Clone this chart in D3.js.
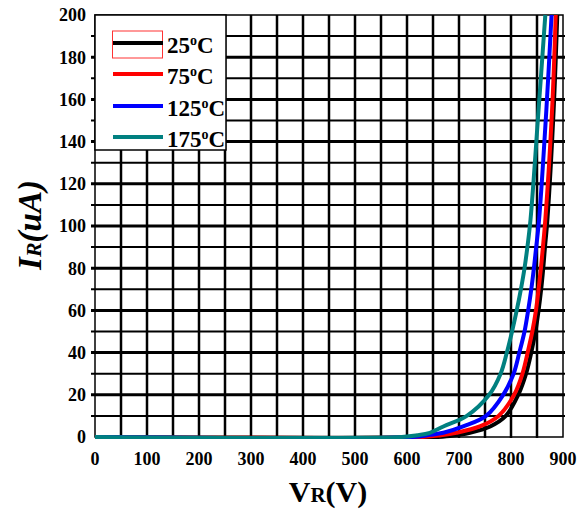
<!DOCTYPE html>
<html lang="en">
  <head>
    <meta charset="UTF-8" />
    <title>IR vs VR</title>
    <style>
      body { margin: 0; background: #fff; }
      text { font-family: "Liberation Serif", "Times New Roman", serif; font-weight: bold; }
    </style>
  </head>
  <body>
    <svg width="587" height="515"></svg>

    <script src="https://d3js.org/d3.v7.min.js"></script>
    <script>
      // temperatures shown in the legend
      const labels = ["25", "75", "125", "175"];
      const colors = ["#000000", "#ff0000", "#0000ff", "#008080"];

      // reverse voltage (V) / reverse current (uA)
      const v25 = [0, 650, 683, 721, 760, 790, 814, 829, 839, 847, 853, 858, 862, 865, 870, 882, 889];
      const i25 = [0, 0, 0.5, 2, 5, 10, 20, 30, 40, 50, 60, 70, 80, 89, 103, 155, 200];
      const v75 = [0, 630, 665, 695, 740, 776, 806, 822, 832, 841, 848, 853, 857.5, 861, 866, 879, 886];
      const i75 = [0, 0, 0.8, 2, 5, 10, 20, 30, 40, 50, 60, 70, 80, 89, 103, 155, 200];
      const v125 = [0, 610, 644, 670, 708, 752, 785, 805, 816, 826, 833, 839, 844, 848, 854, 868, 878];
      const i125 = [0, 0, 1, 2, 5, 10, 20, 30, 40, 50, 60, 70, 80, 89, 103, 155, 200];
      const v175 = [0, 590, 620, 644, 670, 715, 758, 780, 792, 802, 811, 819, 826, 831, 837.5, 853, 866];
      const i175 = [0, 0, 0.8, 2, 5, 10, 20, 30, 40, 50, 60, 70, 80, 89, 103, 155, 200];

      const xTicks = [0, 100, 200, 300, 400, 500, 600, 700, 800, 900];
      const yTicks = [0, 20, 40, 60, 80, 100, 120, 140, 160, 180, 200];

      const svg = d3.select("svg");
      const pl = 95, pr = 563, pt = 15, pb = 437;

      const x = d3.scaleLinear().domain([0, 900]).range([pl, pr]);
      const y = d3.scaleLinear().domain([0, 200]).range([pb, pt]);

      svg.append("clipPath").attr("id", "plot")
        .append("rect")
        .attr("x", pl).attr("y", pt - 2)
        .attr("width", pr - pl).attr("height", pb - pt + 4);

      // grid, every 50 V and every 10 uA
      const grid = svg.append("g");
      grid.selectAll("line.v")
        .data(d3.range(50, 900, 50))
        .join("line")
        .attr("class", "v")
        .attr("x1", d => x(d)).attr("x2", d => x(d))
        .attr("y1", pt).attr("y2", pb + 1)
        .attr("stroke", "#000")
        .attr("stroke-width", 2.5);
      grid.selectAll("line.h")
        .data(d3.range(10, 200, 10))
        .join("line")
        .attr("class", "h")
        .attr("x1", pl - 4).attr("x2", pr + 2)
        .attr("y1", d => y(d)).attr("y2", d => y(d))
        .attr("stroke", "#000")
        .attr("stroke-width", d => d % 20 === 0 ? 3 : 2);

      // frame
      svg.append("rect")
        .attr("x", pl).attr("y", pt)
        .attr("width", pr - pl).attr("height", pb - pt)
        .attr("fill", "none")
        .attr("stroke", "#000")
        .attr("stroke-width", 1.5);

      // tick labels
      svg.append("g")
        .selectAll("text")
        .data(xTicks)
        .join("text")
        .attr("x", d => x(d))
        .attr("y", 465)
        .attr("text-anchor", "middle")
        .attr("font-size", 18)
        .text(d => d);
      svg.append("g")
        .selectAll("text")
        .data(yTicks)
        .join("text")
        .attr("x", pl - 9)
        .attr("y", d => y(d))
        .attr("dy", "0.35em")
        .attr("text-anchor", "end")
        .attr("font-size", 18)
        .text(d => d);

      // curves
      const seriesData = [
        d3.zip(v25, i25),
        d3.zip(v75, i75),
        d3.zip(v125, i125),
        d3.zip(v175, i175),
      ];
      const line = d3.line()
        .x(d => x(d[0]))
        .y(d => y(d[1]))
        .curve(d3.curveCatmullRom.alpha(0.5));

      svg.append("g")
        .attr("clip-path", "url(#plot)")
        .selectAll("path")
        .data(seriesData)
        .join("path")
        .attr("d", line)
        .attr("fill", "none")
        .attr("stroke", (d, i) => colors[i])
        .attr("stroke-width", 4);

      // legend
      const legend = svg.append("g");
      legend.append("rect")
        .attr("x", pl).attr("y", pt)
        .attr("width", 131).attr("height", 135)
        .attr("fill", "#fff")
        .attr("stroke", "#000")
        .attr("stroke-width", 1.5);
      const rowY = [43, 74, 106, 137];
      legend.append("rect")
        .attr("x", 112.5).attr("y", 31)
        .attr("width", 50).attr("height", 27)
        .attr("fill", "none")
        .attr("stroke", "#ff3333")
        .attr("stroke-width", 1);
      labels.forEach((t, i) => {
        legend.append("line")
          .attr("x1", 113).attr("x2", 163)
          .attr("y1", rowY[i]).attr("y2", rowY[i])
          .attr("stroke", colors[i])
          .attr("stroke-width", 4);
        const txt = legend.append("text")
          .attr("x", 167)
          .attr("y", rowY[i] + 10)
          .attr("font-size", 23);
        txt.append("tspan").text(t);
        txt.append("tspan").attr("font-size", 14).attr("dy", -8).text("o");
        txt.append("tspan").attr("dy", 8).text("C");
      });

      // axis titles
      const xt = svg.append("text")
        .attr("x", 328)
        .attr("y", 502)
        .attr("text-anchor", "middle")
        .attr("font-size", 30);
      xt.append("tspan").text("V");
      xt.append("tspan").attr("font-size", 21).text("R");
      xt.append("tspan").text("(V)");

      const yt = svg.append("text")
        .attr("transform", "translate(41,225) rotate(-90)")
        .attr("text-anchor", "middle")
        .attr("font-size", 33)
        .attr("font-style", "italic");
      yt.append("tspan").text("I");
      yt.append("tspan").attr("font-size", 22).text("R");
      yt.append("tspan").text("(uA)");
    </script>
  </body>
</html>
